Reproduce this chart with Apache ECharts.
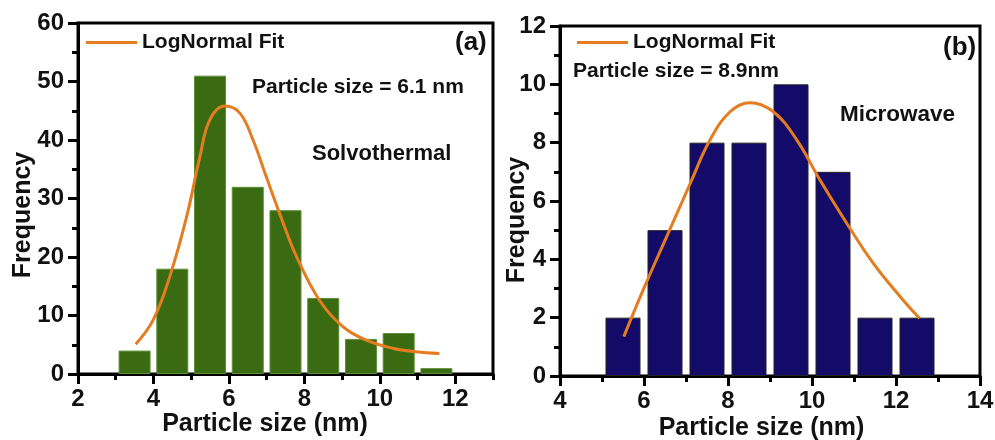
<!DOCTYPE html>
<html>
<head>
<meta charset="utf-8">
<script src="https://cdn.jsdelivr.net/npm/echarts@6/dist/echarts.min.js"></script>
<style>
  html, body { margin: 0; padding: 0; background: #fff; }
  #main { width: 995px; height: 440px; }
</style>
</head>
<body>
<div id="main"></div>
<script>
// (a) solvothermal histogram
var solvoBins = [3.5, 4.5, 5.5, 6.5, 7.5, 8.5, 9.5, 10.5, 11.5];
var solvoCounts = [4, 18, 51, 32, 28, 13, 6, 7, 1];
// log-normal fit curve
var solvoFitX = [3.53, 3.99, 4.43, 4.88, 5.23, 5.49, 5.89, 6.29, 6.64, 6.99, 7.34, 7.79, 8.4, 9.02, 9.64, 10.34, 10.96, 11.58];
var solvoFitY = [5.1, 9.2, 16.6, 26.9, 37.1, 43.4, 45.8, 44.6, 40.0, 33.7, 27.5, 20.1, 12.6, 8.1, 5.8, 4.4, 3.8, 3.5];
var solvoXTicks = [2, 4, 6, 8, 10, 12];
var solvoXMinor = [3, 5, 7, 9, 11, 13];

// (b) microwave histogram
var microBins = [5.5, 6.5, 7.5, 8.5, 9.5, 10.5, 11.5, 12.5];
var microCounts = [2, 5, 8, 8, 10, 7, 2, 2];
var microFitX = [5.52, 5.98, 6.54, 7.1, 7.57, 8.05, 8.52, 9.08, 9.64, 10.19, 10.83, 11.46, 12.1, 12.56];
var microFitY = [1.35, 2.95, 4.78, 6.6, 8.09, 9.06, 9.37, 9.06, 8.09, 6.72, 5.23, 3.86, 2.72, 1.98];

var font = '"Liberation Sans", Arial, sans-serif';
var ink = '#111';
var fitColor = '#e57d20';

function pairs(xs, ys) {
  return xs.map(function (x, i) { return [x, ys[i]]; });
}

var chart = echarts.init(document.getElementById('main'));

var labelStyle = { color: ink, fontSize: 24, fontWeight: 'bold', fontFamily: font };
var nameStyle = { color: ink, fontSize: 25, fontWeight: 'bold', fontFamily: font };
var axisLine = { show: true, lineStyle: { color: '#000', width: 3 } };
var majorTick = { show: true, length: 10, lineStyle: { color: '#000', width: 3 } };
var minorTick = { show: true, splitNumber: 2, length: 6, lineStyle: { color: '#000', width: 3 } };
var legendText = { color: ink, fontSize: 21, fontWeight: 'bold', fontFamily: font };

var option = {
  animation: false,
  backgroundColor: '#fff',
  grid: [
    { left: 78, top: 23, width: 415, height: 351, outerBoundsMode: 'none', show: true, borderColor: '#000', borderWidth: 3 },
    { left: 560, top: 26, width: 420, height: 350, outerBoundsMode: 'none', show: true, borderColor: '#000', borderWidth: 3 }
  ],
  xAxis: [
    {
      gridIndex: 0, type: 'value', min: 2, max: 13, position: 'bottom',
      axisLine: axisLine,
      axisTick: Object.assign({ customValues: solvoXTicks }, majorTick),
      axisLabel: Object.assign({ customValues: solvoXTicks, margin: 13 }, labelStyle),
      splitLine: { show: false },
      name: 'Particle size (nm)', nameLocation: 'middle', nameGap: 38, nameMoveOverlap: false,
      nameTextStyle: Object.assign({ padding: [0, 41, 0, 0] }, nameStyle)
    },
    {
      gridIndex: 0, type: 'value', min: 2, max: 13, position: 'bottom',
      axisLine: { show: false },
      axisTick: { show: true, customValues: solvoXMinor, length: 6, lineStyle: { color: '#000', width: 3 } },
      axisLabel: { show: false },
      splitLine: { show: false }
    },
    {
      gridIndex: 1, type: 'value', min: 4, max: 14, interval: 2, position: 'bottom',
      axisLine: axisLine, axisTick: majorTick, minorTick: minorTick,
      axisLabel: Object.assign({ margin: 13 }, labelStyle),
      splitLine: { show: false },
      name: 'Particle size (nm)', nameLocation: 'middle', nameGap: 40, nameMoveOverlap: false,
      nameTextStyle: Object.assign({ padding: [0, 17, 0, 0] }, nameStyle)
    }
  ],
  yAxis: [
    {
      gridIndex: 0, type: 'value', min: 0, max: 60, interval: 10,
      axisLine: axisLine, axisTick: majorTick, minorTick: minorTick,
      axisLabel: Object.assign({ margin: 14 }, labelStyle),
      splitLine: { show: false },
      name: 'Frequency', nameLocation: 'middle', nameGap: 42, nameMoveOverlap: false,
      nameTextStyle: Object.assign({ padding: [0, 33, 0, 0] }, nameStyle)
    },
    {
      gridIndex: 1, type: 'value', min: 0, max: 12, interval: 2,
      axisLine: axisLine, axisTick: majorTick, minorTick: minorTick,
      axisLabel: Object.assign({ margin: 14 }, labelStyle),
      splitLine: { show: false },
      name: 'Frequency', nameLocation: 'middle', nameGap: 30, nameMoveOverlap: false,
      nameTextStyle: Object.assign({ padding: [0, 38, 0, 0] }, nameStyle)
    }
  ],
  legend: [
    {
      left: 86, top: 32, padding: 0, data: ['LogNormal Fit'],
      icon: 'rect', itemWidth: 51, itemHeight: 3, textStyle: legendText
    },
    {
      left: 577, top: 32, padding: 0, data: ['LogNormal Fit'],
      icon: 'rect', itemWidth: 51, itemHeight: 3, textStyle: legendText
    }
  ],
  graphic: [
    { type: 'text', left: 455, top: 30, style: { text: '(a)', fill: ink, font: 'bold 26px ' + font } },
    { type: 'text', left: 252, top: 77, style: { text: 'Particle size = 6.1 nm', fill: ink, font: 'bold 21px ' + font } },
    { type: 'text', left: 312, top: 143, style: { text: 'Solvothermal', fill: ink, font: 'bold 22px ' + font } },
    { type: 'text', left: 943, top: 35, style: { text: '(b)', fill: ink, font: 'bold 26px ' + font } },
    { type: 'text', left: 573, top: 61, style: { text: 'Particle size = 8.9nm', fill: ink, font: 'bold 21px ' + font } },
    { type: 'text', left: 840, top: 103, style: { text: 'Microwave', fill: ink, font: 'bold 22.5px ' + font } }
  ],
  series: [
    {
      name: 'Solvothermal', type: 'bar', xAxisIndex: 0, yAxisIndex: 0,
      barWidth: 32,
      itemStyle: { color: '#3a6b12', borderColor: '#5c8f35', borderWidth: 1 },
      data: pairs(solvoBins, solvoCounts)
    },
    {
      name: 'LogNormal Fit', type: 'line', xAxisIndex: 0, yAxisIndex: 0,
      smooth: 0.4, showSymbol: false, symbol: 'none',
      itemStyle: { color: fitColor },
      lineStyle: { color: fitColor, width: 3 },
      data: pairs(solvoFitX, solvoFitY)
    },
    {
      name: 'Microwave', type: 'bar', xAxisIndex: 2, yAxisIndex: 1,
      barWidth: 35,
      itemStyle: { color: '#140a68', borderColor: '#222', borderWidth: 1 },
      data: pairs(microBins, microCounts)
    },
    {
      name: 'LogNormal Fit', type: 'line', xAxisIndex: 2, yAxisIndex: 1,
      smooth: 0.4, showSymbol: false, symbol: 'none',
      itemStyle: { color: fitColor },
      lineStyle: { color: fitColor, width: 3 },
      data: pairs(microFitX, microFitY)
    }
  ]
};

chart.setOption(option);
</script>
</body>
</html>
